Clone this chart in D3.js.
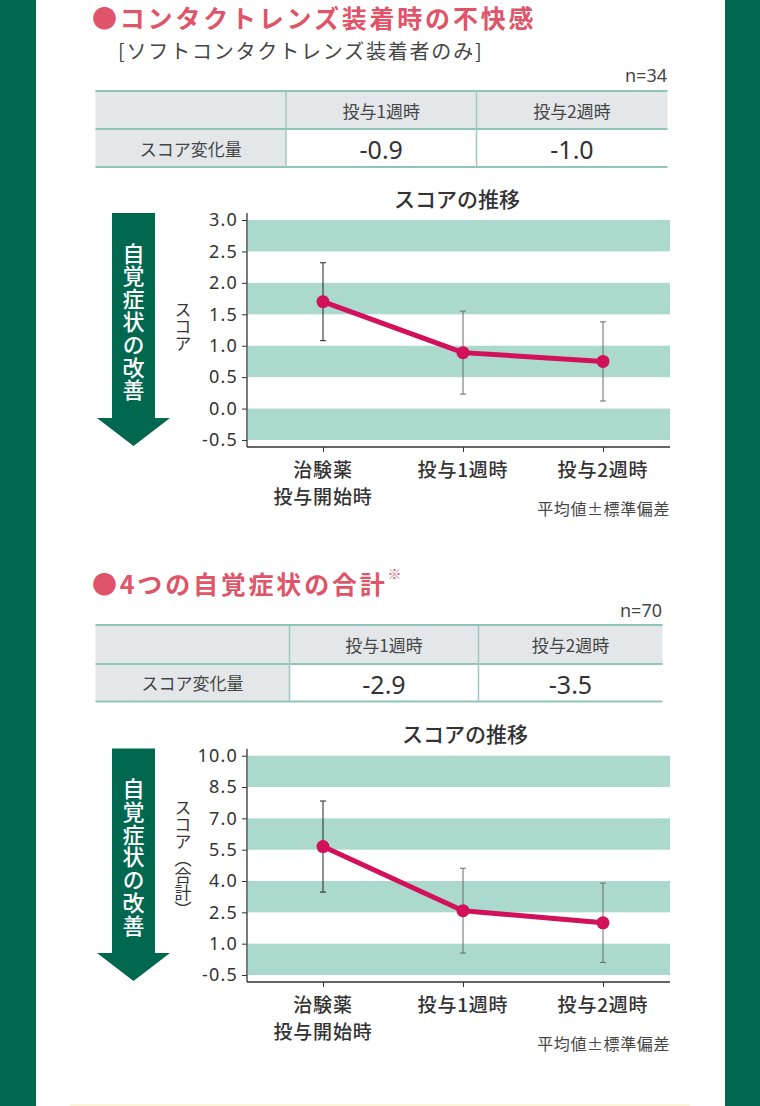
<!DOCTYPE html>
<html lang="ja">
<head>
<meta charset="utf-8">
<title>スコアの推移</title>
<script src="https://d3js.org/d3.v7.min.js"></script>
<style>
  body { margin: 0; background: #00684f; }
  svg { display: block; }
</style>
</head>
<body>
<script>
// ---- data ----
const timepoints = [["治験薬", "投与開始時"], ["投与1週時"], ["投与2週時"]];
const tableCols = ["投与1週時", "投与2週時"];
const rowLabel = "スコア変化量";

// chart 1: contact lens discomfort
const discomfortMean = [1.70, 0.89, 0.75];
const discomfortSD = [0.62, 0.66, 0.63];
const discomfortChange = ["-0.9", "-1.0"];
const discomfortTicks = [3.0, 2.5, 2.0, 1.5, 1.0, 0.5, 0.0, -0.5];

// chart 2: total of 4 symptoms
const totalMean = [5.65, 2.58, 2.0];
const totalSD = [2.18, 2.03, 1.9];
const totalChange = ["-2.9", "-3.5"];
const totalTicks = [10.0, 8.5, 7.0, 5.5, 4.0, 2.5, 1.0, -0.5];

const W = 760, H = 1106;
const jp = "'Noto Sans CJK JP', 'Noto Sans', sans-serif";
const num = "'Noto Sans', 'Noto Sans CJK JP', sans-serif";
const pink = "#df5468", ink = "#333", grey = "#454545";

const svg = d3.select("body").append("svg")
    .attr("width", W)
    .attr("height", H);

// white panel
svg.append("rect").attr("x", 36).attr("y", 0).attr("width", 689).attr("height", H).attr("fill", "#fff");
svg.append("rect").attr("x", 70).attr("y", 1104).attr("width", 620).attr("height", 2).attr("fill", "#fbf5dc");

function txt(g, x, y, s, size, opts = {}) {
    return g.append("text")
        .attr("x", x).attr("y", y)
        .attr("dominant-baseline", "central")
        .attr("text-anchor", opts.anchor || "start")
        .style("font-family", opts.family || jp)
        .style("font-size", size + "px")
        .style("font-weight", opts.weight || 400)
        .style("letter-spacing", (opts.ls || 0) + "px")
        .attr("fill", opts.fill || ink)
        .text(s);
}

// vertical text (top-to-bottom), centred on (cx, cy)
function vtext(g, s, cx, cy, size, fill, weight, ls) {
    return g.append("text")
        .attr("x", cx).attr("y", cy)
        .attr("text-anchor", "middle")
        .style("writing-mode", "vertical-rl")
        .style("font-family", jp)
        .style("font-size", size + "px")
        .style("font-weight", weight)
        .style("letter-spacing", (ls || 0) + "px")
        .attr("fill", fill)
        .text(s);
}

function drawTable(box, change) {
    const g = svg.append("g");
    const { x0, c1, c2, x1, y0, ym, y1 } = box;
    g.append("rect").attr("x", x0).attr("y", y0).attr("width", x1 - x0).attr("height", ym - y0).attr("fill", "#e3e7ea");
    g.append("rect").attr("x", x0).attr("y", ym).attr("width", c1 - x0).attr("height", y1 - ym).attr("fill", "#e3e7ea");
    [y0, ym, y1].forEach(y => g.append("line").attr("x1", x0).attr("x2", x1).attr("y1", y).attr("y2", y)
        .attr("stroke", "#8fc5b8").attr("stroke-width", 2));
    [c1, c2].forEach(x => g.append("line").attr("x1", x).attr("x2", x).attr("y1", y0).attr("y2", y1)
        .attr("stroke", "#9cc9bf").attr("stroke-width", 1.5));
    const centers = [(c1 + c2) / 2, (c2 + x1) / 2];
    tableCols.forEach((c, i) => txt(g, centers[i], (y0 + ym) / 2, c, 17, { anchor: "middle", fill: grey }));
    txt(g, (x0 + c1) / 2, (ym + y1) / 2, rowLabel, 17, { anchor: "middle", fill: grey });
    change.forEach((v, i) => txt(g, centers[i], (ym + y1) / 2 + 1, v, 25, { anchor: "middle", family: num, fill: ink }));
}

function drawArrow(g, top, rectBottom, tip) {
    const p = d3.path();
    p.moveTo(112, top); p.lineTo(155, top); p.lineTo(155, rectBottom); p.lineTo(170, rectBottom);
    p.lineTo(133.5, tip); p.lineTo(97, rectBottom); p.lineTo(112, rectBottom); p.closePath();
    g.append("path").attr("d", p.toString()).attr("fill", "#00684f");
}

function drawChart(c) {
    const g = svg.append("g");
    const y = d3.scaleLinear().domain([c.ticks[c.ticks.length - 1], c.ticks[0]]).range([c.bottom, c.top]);
    const x = d3.scalePoint().domain(d3.range(c.mean.length)).range([323, 603]);
    const left = 247, right = 670;

    // bands
    const bands = d3.range(0, c.ticks.length, 2).map(i => [c.ticks[i], c.ticks[i + 1]]);
    g.selectAll("rect.band").data(bands).join("rect")
        .attr("class", "band")
        .attr("x", left + 1).attr("width", right - left - 1)
        .attr("y", d => y(d[0])).attr("height", d => y(d[1]) - y(d[0]))
        .attr("fill", "#abd9ce");

    // y axis
    const ya = g.append("g").attr("transform", "translate(" + left + ",0)")
        .call(d3.axisLeft(y).tickValues(c.ticks).tickFormat(d => d.toFixed(1)).tickSize(5).tickPadding(4));
    ya.select(".domain").remove();
    ya.selectAll("line").attr("stroke", ink);
    ya.selectAll("text").style("font-family", num).style("font-size", "18px").style("letter-spacing", "1.2px")
        .attr("fill", ink);
    g.append("line").attr("x1", left).attr("x2", left).attr("y1", c.top - 7).attr("y2", c.axisY)
        .attr("stroke", ink).attr("stroke-width", 1.3);

    // x axis
    const xa = g.append("g").attr("transform", "translate(0," + c.axisY + ")")
        .call(d3.axisBottom(x).tickSize(5).tickFormat(""));
    xa.select(".domain").remove();
    xa.selectAll("line").attr("stroke", ink);
    g.append("line").attr("x1", left).attr("x2", right).attr("y1", c.axisY).attr("y2", c.axisY)
        .attr("stroke", ink).attr("stroke-width", 1.3);
    timepoints.forEach((lines, i) => lines.forEach((s, j) =>
        txt(g, x(i), c.axisY + 21 + j * 27, s, 19, { anchor: "middle", weight: 500, ls: 0.8 })));
    txt(g, right, c.axisY + 61, "平均値±標準偏差", 16, { anchor: "end", fill: grey, ls: 0.6 });

    // error bars
    const eb = g.selectAll("g.err").data(c.mean).join("g").attr("class", "err")
        .attr("stroke", (d, i) => i === 0 ? "#222" : "#6a6a6a").attr("stroke-width", 1);
    eb.append("line").attr("x1", (d, i) => x(i)).attr("x2", (d, i) => x(i))
        .attr("y1", (d, i) => y(d + c.sd[i])).attr("y2", (d, i) => y(d - c.sd[i]));
    eb.append("line").attr("x1", (d, i) => x(i) - 3).attr("x2", (d, i) => x(i) + 3)
        .attr("y1", (d, i) => y(d + c.sd[i])).attr("y2", (d, i) => y(d + c.sd[i]));
    eb.append("line").attr("x1", (d, i) => x(i) - 3).attr("x2", (d, i) => x(i) + 3)
        .attr("y1", (d, i) => y(d - c.sd[i])).attr("y2", (d, i) => y(d - c.sd[i]));

    // mean line
    const line = d3.line().x((d, i) => x(i)).y(d => y(d));
    g.append("path").datum(c.mean).attr("d", line).attr("fill", "none")
        .attr("stroke", "#d3105a").attr("stroke-width", 5).attr("stroke-linejoin", "round");
    g.selectAll("circle").data(c.mean).join("circle")
        .attr("cx", (d, i) => x(i)).attr("cy", d => y(d)).attr("r", 6.5).attr("fill", "#d3105a");

    // titles
    txt(g, c.titleX, c.titleY, "スコアの推移", 21, { anchor: "middle", weight: 500 });
    vtext(g, c.ylabel, 183, c.ylabelY, 17, ink, 400, 0);
    drawArrow(g, c.arrow[0], c.arrow[1], c.arrow[2]);
    vtext(g, "自覚症状の改善", 133.5, c.arrow[0] + 109, 22, "#fff", 500, 0.8);
}

// ---- section 1 ----
const h1 = svg.append("g");
txt(h1, 92, 17, "●コンタクトレンズ装着時の不快感", 25, { fill: pink, weight: 700, ls: 2.8 });
txt(h1, 118, 50, "[ソフトコンタクトレンズ装着者のみ]", 20, { fill: grey, ls: 1.8 });
txt(h1, 667, 75, "n=34", 18, { anchor: "end", family: num, fill: grey });
drawTable({ x0: 95.5, c1: 286, c2: 476.5, x1: 667.5, y0: 91, ym: 129, y1: 167 }, discomfortChange);
drawChart({
    mean: discomfortMean, sd: discomfortSD, ticks: discomfortTicks,
    top: 220, bottom: 440, axisY: 447, titleX: 457, titleY: 198,
    ylabel: "スコア", ylabelY: 327, arrow: [213, 418, 446]
});

// ---- section 2 ----
const h2 = svg.append("g");
const t2 = txt(h2, 92, 583, "●4つの自覚症状の合計", 25, { fill: pink, weight: 700, ls: 2.8 });
t2.append("tspan").attr("dy", -10).style("font-size", "14px").style("font-weight", 400).text("※");
txt(h2, 662, 610, "n=70", 18, { anchor: "end", family: num, fill: grey });
drawTable({ x0: 95.5, c1: 289.5, c2: 478.5, x1: 662.5, y0: 625, ym: 664, y1: 701.5 }, totalChange);
drawChart({
    mean: totalMean, sd: totalSD, ticks: totalTicks,
    top: 755.7, bottom: 975, axisY: 982, titleX: 465, titleY: 733,
    ylabel: "スコア（合計）", ylabelY: 859, arrow: [748.5, 953, 981]
});
</script>
</body>
</html>
